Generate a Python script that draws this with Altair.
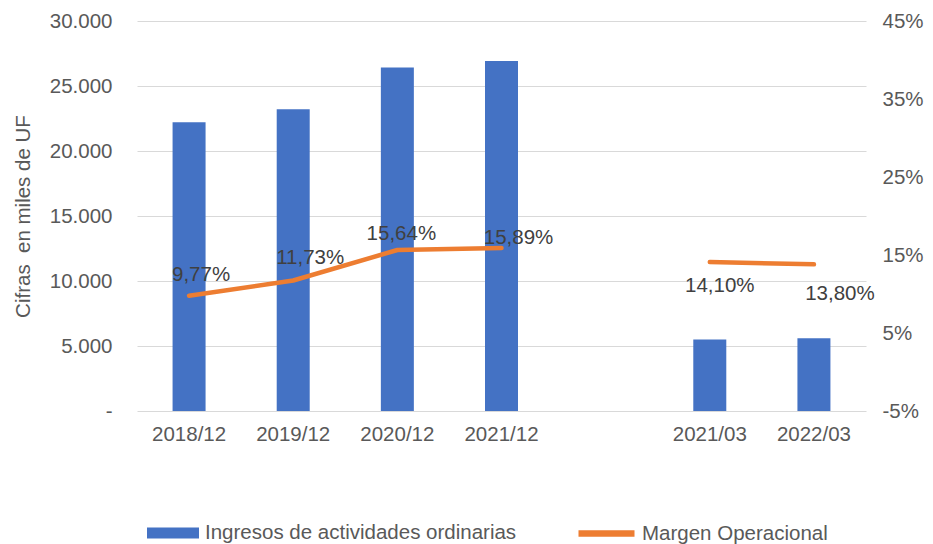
import altair as alt
import pandas as pd

categorias = ["2018/12", "2019/12", "2020/12", "2021/12", " ", "2021/03", "2022/03"]
ingresos = [22220, 23220, 26430, 26920, None, 5500, 5600]
margen = [9.77, 11.73, 15.64, 15.89, None, 14.10, 13.80]
grupo = ["Anual", "Anual", "Anual", "Anual", None, "Trimestral", "Trimestral"]

serie_barras = "Ingresos de actividades ordinarias"
serie_linea = "Margen Operacional"
titulo_y = "Cifras\u00a0 en miles de UF"

left_ticks = [0, 5000, 10000, 15000, 20000, 25000, 30000]
right_ticks = [-5, 5, 15, 25, 35, 45]

df = pd.DataFrame({"cat": categorias, "ingresos": ingresos, "margen": margen, "grupo": grupo})
df["serie_b"] = serie_barras
df["serie_l"] = serie_linea

FONT = "Liberation Sans"
FS = 20.5
GRAY = "#595959"
DARK = "#404040"
BLUE = "#4472C4"
ORANGE = "#ED7D31"

# label offsets (style), keyed by category
label_offsets = {
    "2018/12": (12, -21),
    "2019/12": (17, -23),
    "2020/12": (4, -16),
    "2021/12": (17, -10),
    "2021/03": (10, 24),
    "2022/03": (26, 30),
}

x_enc = alt.X(
    "cat:N",
    sort=categorias,
    scale=alt.Scale(domain=categorias, paddingInner=0.69, paddingOuter=0.345),
    axis=alt.Axis(
        title=None, labelAngle=0, labelFontSize=FS, labelColor=GRAY, labelFont=FONT,
        ticks=False, domain=False, labelPadding=13, grid=False,
    ),
)

y_left = alt.Y(
    "ingresos:Q",
    scale=alt.Scale(domain=[0, 30000], nice=False, zero=True),
    axis=alt.Axis(
        values=left_ticks,
        labelExpr="datum.value == 0 ? '-' : replace(format(datum.value, ',.0f'), ',', '.')",
        title=titulo_y,
        titleFont=FONT, titleFontSize=20.5, titleFontWeight="normal", titleColor=GRAY,
        titlePadding=16,
        labelFont=FONT, labelFontSize=FS, labelColor=GRAY, labelPadding=25,
        ticks=False, domain=False, grid=True, gridColor="#D9D9D9", gridWidth=1,
    ),
)

y_right = alt.Y(
    "margen:Q",
    scale=alt.Scale(domain=[-5, 45], nice=False, zero=False),
    axis=alt.Axis(
        orient="right",
        values=right_ticks,
        labelExpr="datum.value + '%'",
        title=None,
        labelFont=FONT, labelFontSize=FS, labelColor=GRAY, labelPadding=16,
        ticks=False, domain=False, grid=False,
    ),
)

base = alt.Chart(df)

bars = base.transform_filter("isValid(datum.ingresos)").mark_bar(
    size=33
).encode(
    x=x_enc,
    y=y_left,
    fill=alt.Fill(
        "serie_b:N",
        scale=alt.Scale(domain=[serie_barras], range=[BLUE]),
        legend=alt.Legend(
            title=None, orient="none", legendX=10, legendY=486, padding=0,
            symbolType="M-1,-0.21H1V0.21H-1Z", symbolSize=2704, symbolStrokeWidth=0,
            labelFont=FONT, labelFontSize=FS, labelColor=GRAY, labelLimit=600, labelOffset=6,
        ),
    ),
)

line = base.transform_filter("isValid(datum.margen)").mark_line(
    strokeWidth=4.5, strokeCap="round", strokeJoin="round"
).encode(
    x=x_enc,
    y=y_right,
    detail="grupo:N",
    stroke=alt.Stroke(
        "serie_l:N",
        scale=alt.Scale(domain=[serie_linea], range=[ORANGE]),
        legend=alt.Legend(
            title=None, orient="none", legendX=438, legendY=481, padding=0,
            symbolType="stroke", symbolSize=3136, symbolStrokeWidth=6.5,
            labelFont=FONT, labelFontSize=FS, labelColor=GRAY, labelLimit=600, labelOffset=4,
        ),
    ),
)

texts = []
for cat, (dx, dy) in label_offsets.items():
    t = base.transform_filter(
        alt.datum.cat == cat
    ).transform_calculate(
        lbl="replace(format(datum.margen, '.2f'), '.', ',') + '%'"
    ).mark_text(
        font=FONT, fontSize=FS, color=DARK, align="center", baseline="middle", dx=dx, dy=dy
    ).encode(x=x_enc, y=y_right, text="lbl:N")
    texts.append(t)

chart = alt.layer(bars, alt.layer(line, *texts)).resolve_scale(
    y="independent"
).properties(
    width=729, height=390,
    padding={"left": 129, "top": 13, "right": 59, "bottom": 133},
    autosize=alt.AutoSizeParams(type="none"),
    background="white",
).configure_view(stroke=None)

chart.save("out.html", embed_options={"renderer": "svg", "actions": False})
